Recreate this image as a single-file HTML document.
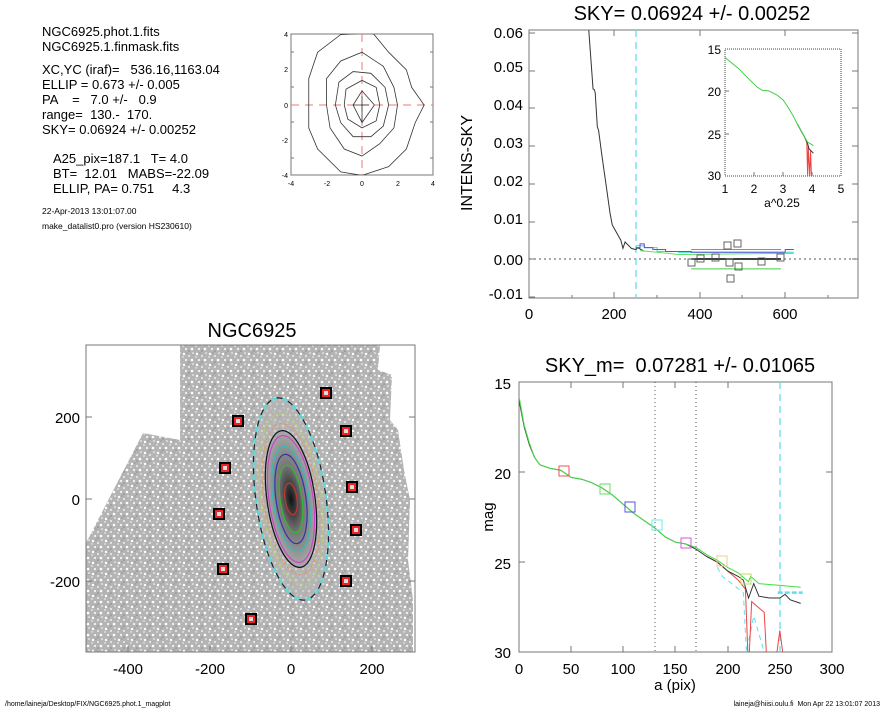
<!DOCTYPE html>
<html><head><meta charset="utf-8"><style>
body{margin:0;background:#fff;}
svg{display:block;font-family:"Liberation Sans",sans-serif;}
text{white-space:pre}
.ax{fill:none;stroke:#777;stroke-width:1}
.t{stroke:#777;stroke-width:1}
.lb{font-size:15px;fill:#000}
.ns{vector-effect:non-scaling-stroke;fill:none}
</style></head><body>
<svg width="885" height="708" viewBox="0 0 885 708" xmlns="http://www.w3.org/2000/svg" xml:space="preserve">
<defs>
<pattern id="spk" width="13" height="11" patternUnits="userSpaceOnUse">
<rect width="13" height="11" fill="#b4b4b4"/>
<circle cx="2" cy="2" r="1.2" fill="#fff"/><circle cx="7" cy="4" r="1" fill="#eee"/><circle cx="11" cy="1" r="0.8" fill="#fff"/>
<circle cx="4" cy="8" r="1.1" fill="#f4f4f4"/><circle cx="10" cy="8" r="1.3" fill="#fff"/><circle cx="1" cy="5" r="0.7" fill="#fff"/>
<circle cx="7" cy="10" r="0.8" fill="#888"/><circle cx="5" cy="1" r="0.6" fill="#888"/>
</pattern>
<clipPath id="gclip"><polygon points="86,543 143,433 180,440 180,345 380,345 378,370 392,375 390,420 398,430 404,470 410,500 408,560 413,600 413,652 86,652"/></clipPath>
<clipPath id="cclip"><rect x="291" y="34" width="142" height="141"/></clipPath>
<clipPath id="brclip"><rect x="519" y="382" width="313" height="270"/></clipPath>
<clipPath id="inclip"><rect x="725" y="49" width="116" height="127"/></clipPath>
<radialGradient id="gal" cx="0.5" cy="0.5" r="0.5"><stop offset="0" stop-color="#111"/><stop offset="0.5" stop-color="#777"/><stop offset="1" stop-color="#aaa"/></radialGradient>
</defs>

<!-- Top-left text -->
<g font-size="13" fill="#000">
<text x="42" y="36">NGC6925.phot.1.fits</text>
<text x="42" y="51">NGC6925.1.finmask.fits</text>
<text x="42" y="74">XC,YC (iraf)=   536.16,1163.04</text>
<text x="42" y="89">ELLIP = 0.673 +/- 0.005</text>
<text x="42" y="104">PA    =   7.0 +/-   0.9</text>
<text x="42" y="119">range=  130.-  170.</text>
<text x="42" y="134">SKY= 0.06924 +/- 0.00252</text>
<text x="53" y="163">A25_pix=187.1   T= 4.0</text>
<text x="53" y="178">BT=  12.01   MABS=-22.09</text>
<text x="53" y="193">ELLIP, PA= 0.751     4.3</text>
</g>
<text x="42" y="214" font-size="8.5">22-Apr-2013 13:01:07.00</text>
<text x="42" y="229" font-size="8.5">make_datalist0.pro (version HS230610)</text>

<!-- Contour plot -->
<rect class="ax" x="291" y="34" width="142" height="141"/>
<g font-size="7" fill="#000" text-anchor="end">
<text x="288" y="37">4</text><text x="288" y="72">2</text><text x="288" y="108">0</text><text x="288" y="143">-2</text><text x="288" y="178">-4</text>
</g>
<g font-size="7" fill="#000" text-anchor="middle">
<text x="291" y="186">-4</text><text x="327" y="186">-2</text><text x="362" y="186">0</text><text x="398" y="186">2</text><text x="433" y="186">4</text>
</g>
<g clip-path="url(#cclip)">
<line x1="291" y1="105" x2="433" y2="105" stroke="#e77" stroke-dasharray="8,6" stroke-width="1"/>
<line x1="362" y1="34" x2="362" y2="175" stroke="#e77" stroke-dasharray="8,6" stroke-width="1"/>
<g transform="translate(362,105) scale(17.75,-17.6)" stroke="#333" stroke-width="0.8">
<polygon class="ns" points="-3,0 -3,1.5 -2.5,3 -1.2,4 0.6,4.1 1.5,3 2.5,2 2.8,1 3.5,0 3,-1 2.5,-2.5 1.5,-3.5 0,-4 -1.2,-3.8 -2.5,-2.5 -3,-1.3"/>
<polygon class="ns" points="-2,0 -2,1.5 -1.2,2.5 0,3 1.2,2.2 1.8,1 2,0 1.8,-1.3 1,-2.2 0,-2.9 -1,-2.5 -1.8,-1.3"/>
<polygon class="ns" points="-1.5,0 -1.3,1.3 -0.5,1.9 0.5,1.8 1.3,1 1.5,0 1.2,-1.2 0.5,-1.8 -0.5,-1.8 -1.2,-1"/>
<polygon class="ns" points="-1,0 -0.9,0.9 0,1.4 0.8,1 1,0 0.8,-0.9 0,-1.3 -0.8,-0.8"/>
<polygon class="ns" points="-0.5,0 0,0.8 0.7,0 0,-1"/>
<line class="ns" x1="0" y1="-1" x2="0" y2="0.5"/>
<line class="ns" x1="-0.5" y1="0" x2="0.4" y2="0"/>
</g>
</g>
<g class="t">
<line x1="291" y1="52" x2="294" y2="52"/><line x1="291" y1="87" x2="294" y2="87"/><line x1="291" y1="122" x2="294" y2="122"/><line x1="291" y1="158" x2="294" y2="158"/>
<line x1="430" y1="52" x2="433" y2="52"/><line x1="430" y1="87" x2="433" y2="87"/><line x1="430" y1="122" x2="433" y2="122"/><line x1="430" y1="158" x2="433" y2="158"/>
</g>

<!-- Top-right plot -->
<text x="692" y="20" font-size="20" text-anchor="middle">SKY= 0.06924 +/- 0.00252</text>
<rect class="ax" x="529" y="30" width="329" height="268"/>
<g class="lb" text-anchor="end">
<text x="523" y="38">0.06</text><text x="523" y="72">0.05</text><text x="523" y="110">0.04</text><text x="523" y="148">0.03</text><text x="523" y="186">0.02</text><text x="523" y="224">0.01</text><text x="523" y="265">0.00</text><text x="523" y="299">-0.01</text>
</g>
<g class="lb" text-anchor="middle">
<text x="529" y="319">0</text><text x="614" y="319">200</text><text x="700" y="319">400</text><text x="785" y="319">600</text>
</g>
<text transform="translate(472,163) rotate(-90)" font-size="16" text-anchor="middle">INTENS-SKY</text>
<g class="t">
<line x1="529" y1="33" x2="535" y2="33"/><line x1="529" y1="71" x2="535" y2="71"/><line x1="529" y1="108" x2="535" y2="108"/><line x1="529" y1="146" x2="535" y2="146"/><line x1="529" y1="184" x2="535" y2="184"/><line x1="529" y1="222" x2="535" y2="222"/><line x1="529" y1="259" x2="535" y2="259"/><line x1="529" y1="297" x2="535" y2="297"/>
<line x1="852" y1="33" x2="858" y2="33"/><line x1="852" y1="71" x2="858" y2="71"/><line x1="852" y1="108" x2="858" y2="108"/><line x1="852" y1="146" x2="858" y2="146"/><line x1="852" y1="184" x2="858" y2="184"/><line x1="852" y1="222" x2="858" y2="222"/><line x1="852" y1="259" x2="858" y2="259"/>
<line x1="614" y1="298" x2="614" y2="292"/><line x1="700" y1="298" x2="700" y2="292"/><line x1="785" y1="298" x2="785" y2="292"/><line x1="572" y1="298" x2="572" y2="295"/><line x1="657" y1="298" x2="657" y2="295"/><line x1="742" y1="298" x2="742" y2="295"/><line x1="828" y1="298" x2="828" y2="295"/>
<line x1="614" y1="30" x2="614" y2="36"/><line x1="700" y1="30" x2="700" y2="36"/><line x1="785" y1="30" x2="785" y2="36"/>
</g>
<line x1="529" y1="259" x2="858" y2="259" stroke="#555" stroke-dasharray="2,3"/>
<line x1="636" y1="30" x2="636" y2="298" stroke="#6de" stroke-width="1.3" stroke-dasharray="7,5"/>
<g transform="translate(529,259) scale(0.427,-3780)">
<polyline class="ns" stroke="#333" points="140,0.0605 150,0.045 153,0.0448 155,0.044 160,0.035 163,0.034 170,0.028 180,0.02 190,0.012 195,0.009 200,0.008 210,0.006 215,0.005 220,0.0028 225,0.0045 240,0.0028 250,0.0025 255,0.003 270,0.002"/>
<polyline class="ns" stroke="#3dd" points="250,0.0035 270,0.0035 270,0.003 300,0.003 300,0.002 350,0.002 350,0.0018 620,0.0018"/>
<polyline class="ns" stroke="#55c" points="250,0.003 260,0.003 260,0.004 270,0.004 270,0.003 290,0.003 290,0.0025 320,0.0025 320,0.002 380,0.002 380,0.0018 600,0.0018 600,0.0025 620,0.0025"/>
<polyline class="ns" stroke="#6d6" points="260,0.0022 300,0.0018 350,0.0012 620,0.0015"/>
<line class="ns" stroke="#e66" x1="380" y1="0.0025" x2="590" y2="0.0025"/>
<line class="ns" stroke="#000" stroke-width="1.5" x1="380" y1="0" x2="590" y2="0"/>
<line class="ns" stroke="#4c4" x1="380" y1="-0.0026" x2="590" y2="-0.0026"/>
</g>
<g fill="none" stroke="#555" stroke-width="0.9">
<rect x="688" y="259" width="7" height="7"/><rect x="697" y="255" width="7" height="7"/><rect x="712" y="254" width="7" height="7"/><rect x="724" y="242" width="7" height="7"/><rect x="726" y="259" width="7" height="7"/><rect x="727" y="275" width="7" height="7"/><rect x="734" y="240" width="7" height="7"/><rect x="735" y="263" width="7" height="7"/><rect x="758" y="258" width="7" height="7"/><rect x="777" y="254" width="7" height="7"/>
</g>
<!-- inset -->
<rect x="725" y="49" width="116" height="127" fill="#fff" stroke="#444" stroke-dasharray="1,1"/>
<g class="t"><line x1="754" y1="176" x2="754" y2="172"/><line x1="783" y1="176" x2="783" y2="172"/><line x1="812" y1="176" x2="812" y2="172"/>
<line x1="725" y1="91" x2="729" y2="91"/><line x1="725" y1="134" x2="729" y2="134"/></g>
<g font-size="12" text-anchor="end"><text x="721" y="54">15</text><text x="721" y="96">20</text><text x="721" y="139">25</text><text x="721" y="180">30</text></g>
<g font-size="12" text-anchor="middle"><text x="725" y="193">1</text><text x="754" y="193">2</text><text x="783" y="193">3</text><text x="812" y="193">4</text><text x="841" y="193">5</text></g>
<text x="782" y="207" font-size="12" text-anchor="middle">a^0.25</text>
<g clip-path="url(#inclip)"><g transform="translate(725,49) scale(29,8.47) translate(-1,-15)">
<polyline class="ns" stroke="#e44" points="3.5,23.9 3.76,25.5 3.82,26 3.85,30 3.87,26.5 3.92,30 3.95,27 3.98,30"/>
<polyline class="ns" stroke="#333" points="3.5,23.9 3.76,25.5 3.85,26.2 3.9,26.8 4.05,27.3"/>
<polyline class="ns" stroke="#4c4" points="1,16 1.5,17.4 1.78,18.4 2.11,19.5 2.3,19.9 2.51,19.95 2.78,20.4 3,21 3.16,21.8 3.35,22.9 3.5,23.9 3.76,25.5 3.85,26 4.05,26.4"/>
</g></g>

<!-- Galaxy image -->
<text x="252" y="337" font-size="20" text-anchor="middle">NGC6925</text>
<g clip-path="url(#gclip)">
<rect x="86" y="345" width="329" height="307" fill="url(#spk)"/>
</g>
<g transform="rotate(-8 291 499)">
<ellipse cx="291" cy="499" rx="35" ry="102" fill="#b4b4b4" opacity="0.6"/>
<ellipse cx="291" cy="499" rx="24" ry="69" fill="url(#gal)"/>
<g fill="none" stroke-width="1.2">
<ellipse cx="291" cy="499" rx="35" ry="102" stroke="#222"/>
<ellipse cx="291" cy="499" rx="35" ry="102" stroke="#5dd" stroke-dasharray="6,6" stroke-width="2"/>
<ellipse cx="291" cy="499" rx="30" ry="86" stroke="#bc6" stroke-dasharray="3,2"/>
<ellipse cx="291" cy="499" rx="27" ry="76" stroke="#d96" stroke-dasharray="3,2"/>
<ellipse cx="291" cy="499" rx="24" ry="69" stroke="#111"/>
<ellipse cx="291" cy="499" rx="22" ry="64" stroke="#c4c"/>
<ellipse cx="291" cy="499" rx="18" ry="53" stroke="#3bb"/>
<ellipse cx="291" cy="499" rx="15" ry="45" stroke="#33a"/>
<ellipse cx="291" cy="499" rx="11" ry="34" stroke="#3b3"/>
<ellipse cx="291" cy="499" rx="6" ry="16" stroke="#c33"/>
</g></g>
<g fill="#e22" stroke="#000" stroke-width="2">
<rect x="321" y="388" width="10" height="10"/><rect x="233" y="416" width="10" height="10"/><rect x="341" y="426" width="10" height="10"/><rect x="220" y="463" width="10" height="10"/><rect x="347" y="482" width="10" height="10"/><rect x="214" y="509" width="10" height="10"/><rect x="351" y="525" width="10" height="10"/><rect x="218" y="564" width="10" height="10"/><rect x="341" y="576" width="10" height="10"/><rect x="246" y="614" width="10" height="10"/>
</g>
<g fill="#ddd">
<rect x="324" y="391" width="4" height="4"/><rect x="236" y="419" width="4" height="4"/><rect x="344" y="429" width="4" height="4"/><rect x="223" y="466" width="4" height="4"/><rect x="350" y="485" width="4" height="4"/><rect x="217" y="512" width="4" height="4"/><rect x="354" y="528" width="4" height="4"/><rect x="221" y="567" width="4" height="4"/><rect x="344" y="579" width="4" height="4"/><rect x="249" y="617" width="4" height="4"/>
</g>
<rect class="ax" x="86" y="345" width="329" height="307"/>
<g class="lb" text-anchor="end"><text x="80" y="423">200</text><text x="80" y="505">0</text><text x="80" y="587">-200</text></g>
<g class="lb" text-anchor="middle"><text x="128" y="674">-400</text><text x="210" y="674">-200</text><text x="291" y="674">0</text><text x="372" y="674">200</text></g>
<g class="t">
<line x1="128" y1="652" x2="128" y2="646"/><line x1="210" y1="652" x2="210" y2="646"/><line x1="291" y1="652" x2="291" y2="646"/><line x1="372" y1="652" x2="372" y2="646"/>
<line x1="86" y1="417" x2="92" y2="417"/><line x1="86" y1="499" x2="92" y2="499"/><line x1="86" y1="581" x2="92" y2="581"/>
<line x1="409" y1="417" x2="415" y2="417"/><line x1="409" y1="499" x2="415" y2="499"/><line x1="409" y1="581" x2="415" y2="581"/>
</g>

<!-- Bottom-right plot -->
<text x="680" y="372" font-size="20" text-anchor="middle">SKY_m=  0.07281 +/- 0.01065</text>
<rect class="ax" x="519" y="382" width="313" height="270"/>
<g class="lb" text-anchor="end"><text x="511" y="389">15</text><text x="511" y="479">20</text><text x="511" y="569">25</text><text x="511" y="658">30</text></g>
<g class="lb" text-anchor="middle"><text x="519" y="674">0</text><text x="571" y="674">50</text><text x="623" y="674">100</text><text x="675" y="674">150</text><text x="728" y="674">200</text><text x="780" y="674">250</text><text x="832" y="674">300</text></g>
<text x="675" y="690" font-size="15" text-anchor="middle">a (pix)</text>
<text transform="translate(493,517) rotate(-90)" font-size="15" text-anchor="middle">mag</text>
<g class="t">
<line x1="519" y1="472" x2="525" y2="472"/><line x1="519" y1="562" x2="525" y2="562"/><line x1="826" y1="472" x2="832" y2="472"/><line x1="826" y1="562" x2="832" y2="562"/>
<line x1="571" y1="652" x2="571" y2="646"/><line x1="623" y1="652" x2="623" y2="646"/><line x1="675" y1="652" x2="675" y2="646"/><line x1="728" y1="652" x2="728" y2="646"/><line x1="780" y1="652" x2="780" y2="646"/>
<line x1="571" y1="382" x2="571" y2="388"/><line x1="623" y1="382" x2="623" y2="388"/><line x1="675" y1="382" x2="675" y2="388"/><line x1="728" y1="382" x2="728" y2="388"/><line x1="780" y1="382" x2="780" y2="388"/>
</g>
<line x1="655" y1="382" x2="655" y2="652" stroke="#555" stroke-dasharray="1,3"/>
<line x1="696" y1="382" x2="696" y2="652" stroke="#555" stroke-dasharray="1,3"/>
<line x1="780" y1="382" x2="780" y2="652" stroke="#6de" stroke-width="1.3" stroke-dasharray="7,5"/>
<g clip-path="url(#brclip)"><g transform="translate(519,382) scale(1.0433,18) translate(0,-15)">
<polyline class="ns" stroke="#6de" stroke-dasharray="5,4" points="190,25.3 195,25.8 215,26.7 218,30 225,28 235,30"/>
<line class="ns" stroke="#6de" stroke-width="2.5" stroke-dasharray="5,2" x1="248" y1="26.7" x2="272" y2="26.7"/>
<polyline class="ns" stroke="#e44" points="180,24.7 190,25.0 200,25.5 210,26.0 217,26.5 220,31 223,27.2 235,27.8 238,31 245,31 250,28.8 255,31"/>
<polyline class="ns" stroke="#333" points="0,16 5,17.5 10,18.5 15,19.2 20,19.6 30,19.8 40,19.9 50,20.3 60,20.4 70,20.6 80,20.9 90,21.3 100,21.8 110,22.3 120,22.7 130,23.1 140,23.6 150,23.9 160,24.0 170,24.3 180,24.7 190,25.0 200,25.5 210,25.8 215,26.0 220,27.0 225,26.2 230,26.9 240,27.0 250,27.0 255,26.8 260,27.1 270,27.3"/>
<polyline class="ns" stroke="#4d4" points="0,15.8 5,17.4 10,18.4 15,19.2 20,19.6 30,19.8 40,19.9 50,20.3 60,20.4 70,20.6 80,20.9 90,21.3 100,21.8 110,22.3 120,22.7 130,23.1 140,23.6 150,23.9 160,24.0 170,24.2 180,24.6 190,24.9 200,25.3 210,25.6 220,26.1 222,25.8 230,26.2 250,26.3 270,26.4"/>
</g></g>
<g fill="none" stroke-width="1">
<rect x="559" y="466" width="10" height="10" stroke="#e55"/>
<rect x="600" y="484" width="10" height="10" stroke="#6d6"/>
<rect x="625" y="502" width="10" height="10" stroke="#55d"/>
<rect x="652" y="520" width="10" height="10" stroke="#6ee"/>
<rect x="681" y="538" width="10" height="10" stroke="#d5d"/>
<rect x="717" y="556" width="10" height="10" stroke="#ec8"/>
<rect x="741" y="574" width="10" height="10" stroke="#bd6"/>
</g>

<text x="5" y="706" font-size="7">/home/laineja/Desktop/FIX/NGC6925.phot.1_magplot</text>
<text x="880" y="706" font-size="7" text-anchor="end">laineja@hiisi.oulu.fi  Mon Apr 22 13:01:07 2013</text>
</svg>
</body></html>
